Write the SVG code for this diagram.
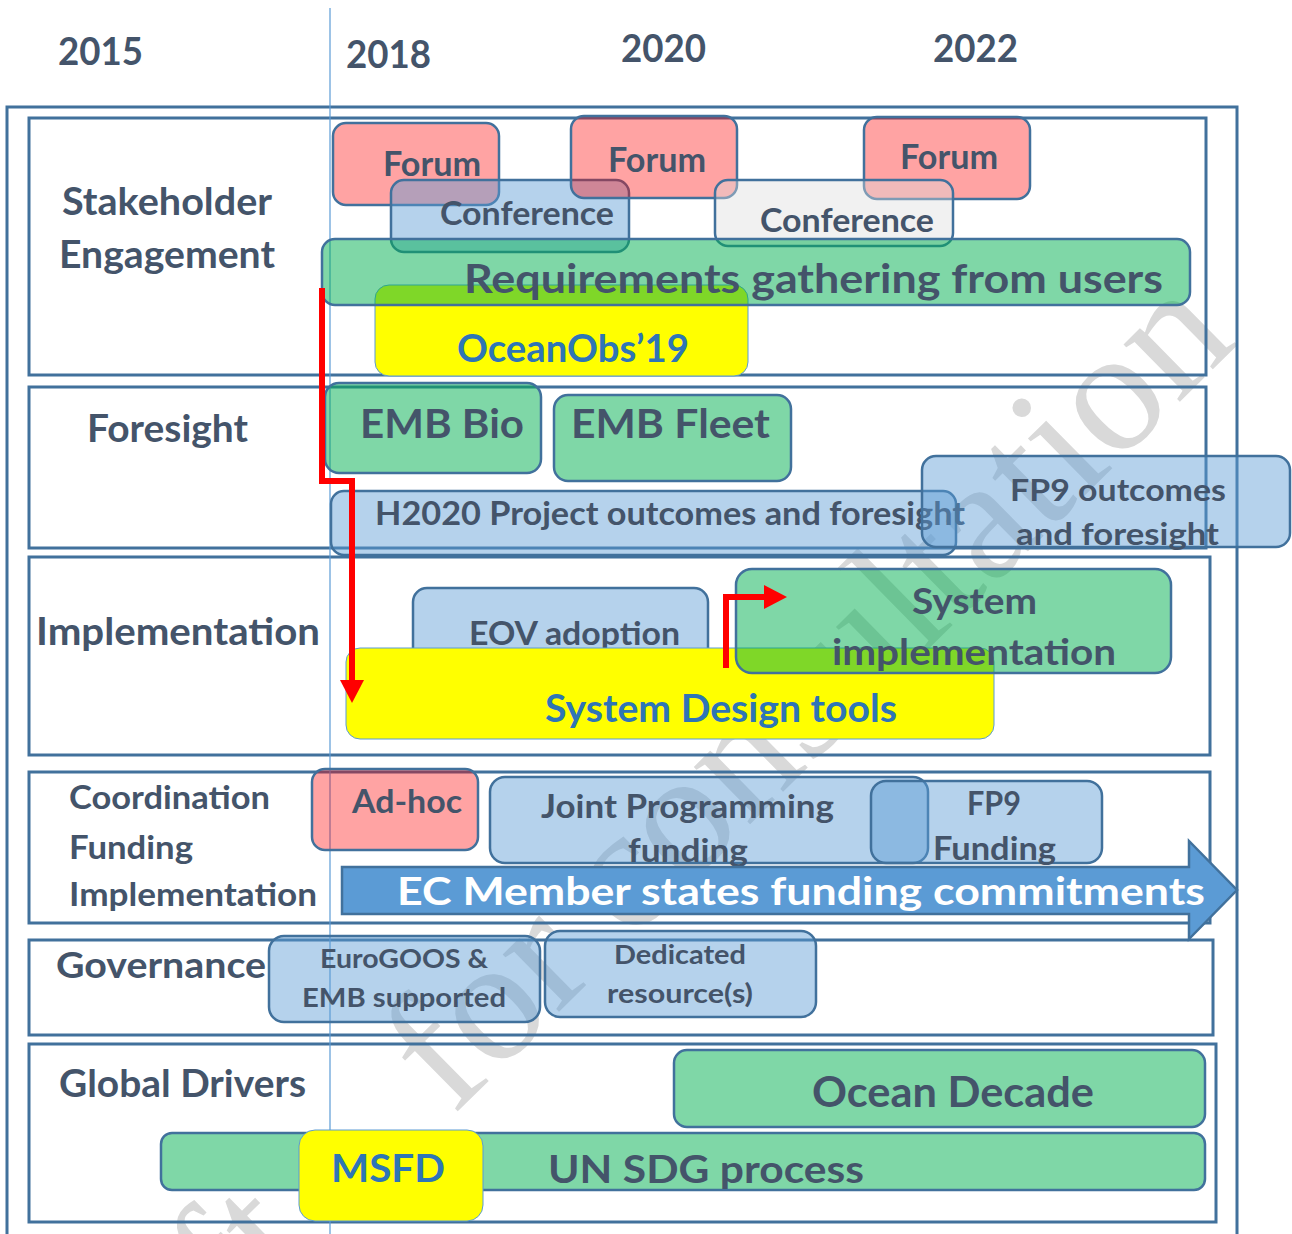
<svg xmlns="http://www.w3.org/2000/svg" width="1292" height="1234" viewBox="0 0 1292 1234">
<defs>
<style>
.frame{fill:none;stroke:#41719C;stroke-width:3}
.box{stroke:#41719C;stroke-width:2.5}
.pink{fill:#FF0000;fill-opacity:0.36}
.blue{fill:#5B9BD5;fill-opacity:0.45}
.green{fill:#00B050;fill-opacity:0.5}
.gray{fill:#DCDCDC;fill-opacity:0.4}
.yellow{fill:#FFFF00;stroke:#5B9BD5;stroke-width:1}
.t{font-family:Lato,"Open Sans","Liberation Sans",sans-serif;font-weight:bold;fill:#44546A}
.bt{fill:#2E75B6}
.wt{fill:#FFFFFF}
.red{fill:none;stroke:#FF0000;stroke-width:6;stroke-linejoin:miter}
.wm{font-family:"Liberation Serif",serif;font-size:175px;fill:#D9D9D9}
</style>
<marker id="redHead" markerUnits="userSpaceOnUse" viewBox="0 0 23 24" markerWidth="23" markerHeight="24" refX="0" refY="12" orient="auto">
<path d="M0,0 L23,12 L0,24 z" fill="#FF0000"/>
</marker>
</defs>
<rect width="1292" height="1234" fill="#FFFFFF"/>

<g id="watermark" transform="translate(158,1406) rotate(-44.5)">
<text class="wm" x="219" y="0" text-anchor="end">Draft</text>
<text class="wm" x="413" y="0">for consultation</text>
</g>

<g id="frame-outer"><rect class="frame" x="7" y="107" width="1230" height="1140" stroke-width="2.5"/></g>

<g id="row-stakeholder">
<rect class="frame" x="29" y="118" width="1177" height="257"/>
<text class="t" font-size="38" x="62" y="215" textLength="210" lengthAdjust="spacingAndGlyphs">Stakeholder</text>
<text class="t" font-size="38" x="59" y="268" textLength="216" lengthAdjust="spacingAndGlyphs">Engagement</text>
</g>
<g id="row-foresight">
<rect class="frame" x="29" y="387" width="1177" height="161"/>
<text class="t" font-size="38" x="87" y="442" textLength="161" lengthAdjust="spacingAndGlyphs">Foresight</text>
</g>
<g id="row-implementation">
<rect class="frame" x="29" y="557" width="1181" height="198"/>
<text class="t" font-size="38" x="36" y="645" textLength="284" lengthAdjust="spacingAndGlyphs">Implementation</text>
</g>
<g id="row-coordination">
<rect class="frame" x="29" y="772" width="1181" height="151"/>
<text class="t" font-size="32" x="69" y="809" textLength="201" lengthAdjust="spacingAndGlyphs">Coordination</text>
<text class="t" font-size="32" x="69" y="859" textLength="124" lengthAdjust="spacingAndGlyphs">Funding</text>
<text class="t" font-size="32" x="69" y="906" textLength="248" lengthAdjust="spacingAndGlyphs">Implementation</text>
</g>
<g id="row-governance">
<rect class="frame" x="29" y="940" width="1184" height="95"/>
<text class="t" font-size="36" x="56" y="978" textLength="210" lengthAdjust="spacingAndGlyphs">Governance</text>
</g>
<g id="row-global">
<rect class="frame" x="29" y="1044" width="1187" height="178"/>
<text class="t" font-size="38" x="59" y="1097" textLength="247" lengthAdjust="spacingAndGlyphs">Global Drivers</text>
</g>

<g id="years">
<text class="t" font-size="38" x="58" y="65" textLength="85" lengthAdjust="spacingAndGlyphs">2015</text>
<text class="t" font-size="38" x="346" y="68" textLength="85" lengthAdjust="spacingAndGlyphs">2018</text>
<text class="t" font-size="38" x="621" y="62" textLength="85" lengthAdjust="spacingAndGlyphs">2020</text>
<text class="t" font-size="38" x="933" y="62" textLength="85" lengthAdjust="spacingAndGlyphs">2022</text>
</g>

<g id="line-2018"><line x1="330" y1="8" x2="330" y2="1234" stroke="#5B9BD5" stroke-width="1.2"/></g>

<g id="forum-1">
<rect class="box pink" x="333" y="123" width="166" height="82" rx="13"/>
<text class="t" font-size="35" x="383" y="176" textLength="98" lengthAdjust="spacingAndGlyphs">Forum</text>
</g>
<g id="conference-1">
<rect class="box blue" x="391" y="180" width="238" height="72" rx="13"/>
<text class="t" font-size="32" x="440" y="225" textLength="174" lengthAdjust="spacingAndGlyphs">Conference</text>
</g>
<g id="forum-2">
<rect class="box pink" x="571" y="116" width="166" height="82" rx="13"/>
<text class="t" font-size="35" x="608" y="172" textLength="98" lengthAdjust="spacingAndGlyphs">Forum</text>
</g>
<g id="forum-3">
<rect class="box pink" x="864" y="117" width="166" height="82" rx="13"/>
<text class="t" font-size="35" x="900" y="169" textLength="98" lengthAdjust="spacingAndGlyphs">Forum</text>
</g>
<g id="conference-2">
<rect class="box gray" x="715" y="180" width="238" height="66" rx="13"/>
<text class="t" font-size="32" x="760" y="232" textLength="174" lengthAdjust="spacingAndGlyphs">Conference</text>
</g>
<g id="oceanobs">
<rect class="yellow" x="375" y="285" width="373" height="91" rx="14"/>
<text class="t bt" font-size="38" x="457" y="362" textLength="232" lengthAdjust="spacingAndGlyphs">OceanObs’19</text>
</g>
<g id="requirements">
<rect class="box green" x="322" y="239" width="868" height="66" rx="13"/>
<text class="t" font-size="41" x="464" y="293" textLength="699" lengthAdjust="spacingAndGlyphs">Requirements gathering from users</text>
</g>

<g id="emb-bio">
<rect class="box green" x="325" y="383" width="216" height="90" rx="14"/>
<text class="t" font-size="41" x="360" y="438" textLength="164" lengthAdjust="spacingAndGlyphs">EMB Bio</text>
</g>
<g id="emb-fleet">
<rect class="box green" x="554" y="395" width="237" height="86" rx="14"/>
<text class="t" font-size="41" x="571" y="438" textLength="199" lengthAdjust="spacingAndGlyphs">EMB Fleet</text>
</g>
<g id="h2020">
<rect class="box blue" x="331" y="491" width="625" height="64" rx="13"/>
<text class="t" font-size="32" x="375" y="525" textLength="590" lengthAdjust="spacingAndGlyphs">H2020 Project outcomes and foresight</text>
</g>
<g id="fp9-outcomes">
<rect class="box blue" x="922" y="456" width="368" height="91" rx="14"/>
<text class="t" font-size="31" x="1010" y="501" textLength="216" lengthAdjust="spacingAndGlyphs">FP9 outcomes</text>
<text class="t" font-size="31" x="1016" y="545" textLength="203" lengthAdjust="spacingAndGlyphs">and foresight</text>
</g>

<g id="eov">
<rect class="box blue" x="413" y="588" width="295" height="110" rx="14"/>
<text class="t" font-size="32" x="469" y="645" textLength="211" lengthAdjust="spacingAndGlyphs">EOV adoption</text>
</g>
<g id="system-design-tools">
<rect class="yellow" x="346" y="648" width="648" height="91" rx="14"/>
<text class="t bt" font-size="39" x="545" y="722" textLength="352" lengthAdjust="spacingAndGlyphs">System Design tools</text>
</g>
<g id="system-implementation">
<rect class="box green" x="736" y="569" width="435" height="104" rx="16"/>
<text class="t" font-size="37" x="912" y="614" textLength="125" lengthAdjust="spacingAndGlyphs">System</text>
<text class="t" font-size="37" x="832" y="665" textLength="284" lengthAdjust="spacingAndGlyphs">implementation</text>
</g>

<g id="ad-hoc">
<rect class="box pink" x="312" y="769" width="166" height="81" rx="13"/>
<text class="t" font-size="32" x="352" y="813" textLength="110" lengthAdjust="spacingAndGlyphs">Ad-hoc</text>
</g>
<g id="joint-programming">
<rect class="box blue" x="490" y="777" width="438" height="86" rx="15"/>
<text class="t" font-size="32" x="541" y="818" textLength="293" lengthAdjust="spacingAndGlyphs">Joint Programming</text>
<text class="t" font-size="32" x="628" y="862" textLength="120" lengthAdjust="spacingAndGlyphs">funding</text>
</g>
<g id="fp9-funding">
<rect class="box blue" x="871" y="781" width="231" height="82" rx="15"/>
<text class="t" font-size="32" x="967" y="815" textLength="54" lengthAdjust="spacingAndGlyphs">FP9</text>
<text class="t" font-size="32" x="933" y="860" textLength="123" lengthAdjust="spacingAndGlyphs">Funding</text>
</g>
<g id="ec-member-states">
<polygon points="342,867 1189,867 1189,841 1237,890 1189,939 1189,914 342,914" fill="#5B9BD5" stroke="#41719C" stroke-width="2.5"/>
<text class="t wt" font-size="39" x="397" y="905" textLength="808" lengthAdjust="spacingAndGlyphs">EC Member states funding commitments</text>
</g>

<g id="eurogoos">
<rect class="box blue" x="269" y="936" width="271" height="86" rx="15"/>
<text class="t" font-size="27" x="320" y="968" textLength="168" lengthAdjust="spacingAndGlyphs">EuroGOOS &amp;</text>
<text class="t" font-size="27" x="302" y="1007" textLength="204" lengthAdjust="spacingAndGlyphs">EMB supported</text>
</g>
<g id="dedicated">
<rect class="box blue" x="545" y="931" width="271" height="86" rx="15"/>
<text class="t" font-size="27" x="614" y="964" textLength="132" lengthAdjust="spacingAndGlyphs">Dedicated</text>
<text class="t" font-size="27" x="607" y="1003" textLength="146" lengthAdjust="spacingAndGlyphs">resource(s)</text>
</g>

<g id="ocean-decade">
<rect class="box green" x="674" y="1050" width="531" height="77" rx="13"/>
<text class="t" font-size="42" x="812" y="1107" textLength="282" lengthAdjust="spacingAndGlyphs">Ocean Decade</text>
</g>
<g id="un-sdg">
<rect class="box green" x="161" y="1133" width="1044" height="57" rx="11"/>
<text class="t" font-size="38" x="548" y="1183" textLength="316" lengthAdjust="spacingAndGlyphs">UN SDG process</text>
</g>
<g id="msfd">
<rect class="yellow" x="299" y="1130" width="184" height="91" rx="16"/>
<text class="t bt" font-size="38" x="331" y="1182" textLength="114" lengthAdjust="spacingAndGlyphs">MSFD</text>
</g>

<g id="connectors">
<path class="red" d="M322,288 L322,481 L352,481 L352,680" marker-end="url(#redHead)"/>
<path class="red" d="M726,668 L726,597 L764,597" marker-end="url(#redHead)"/>
</g>
</svg>
